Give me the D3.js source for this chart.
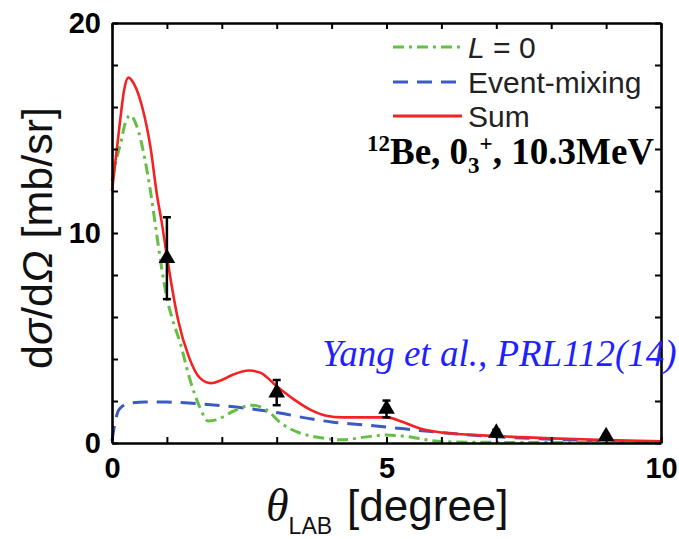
<!DOCTYPE html>
<head>
<meta charset="utf-8">
<title>12Be 0_3+ angular distribution</title>
<style>
  body { margin: 0; background: #fff; }
  text { font-family: "Liberation Sans", Arial, sans-serif; }
</style>
</head>
<body>
<script src="https://d3js.org/d3.v7.min.js"></script>
<script>
// ---- data ----
// L = 0 curve (green dash-dot)
let l0Theta = [0, 0.08, 0.15, 0.25, 0.33, 0.45, 0.6, 0.7, 0.8, 0.9, 1.0, 1.1, 1.25, 1.4, 1.6, 1.75, 1.9, 2.2, 2.55, 2.8, 3.1, 3.4, 3.8, 4.2, 4.6, 5.0, 5.4, 5.8, 6.2, 7, 8, 9, 10];
let l0Val   = [12.5, 13.5, 14.2, 15.3, 15.6, 15.1, 13.5, 12.0, 10.2, 8.4, 6.9, 5.9, 4.7, 3.2, 1.7, 1.05, 1.1, 1.5, 1.8, 1.6, 0.9, 0.5, 0.25, 0.15, 0.28, 0.38, 0.3, 0.12, 0.05, 0.03, 0.02, 0.02, 0.02];
// event-mixing curve (blue dashed)
let emTheta = [0, 0.05, 0.13, 0.3, 0.6, 1.0, 1.4, 1.8, 2.4, 3.0, 3.6, 4.0, 4.5, 5.0, 5.6, 6.2, 7.0, 8.0, 9.0, 10.0];
let emVal   = [0.1, 0.9, 1.6, 1.88, 1.95, 1.95, 1.9, 1.82, 1.67, 1.45, 1.16, 1.0, 0.88, 0.76, 0.6, 0.45, 0.3, 0.18, 0.1, 0.05];
// sum (red solid)
let sumTheta = [0, 0.08, 0.15, 0.22, 0.3, 0.4, 0.55, 0.7, 0.82, 0.9, 1.0, 1.1, 1.2, 1.4, 1.6, 1.8, 2.0, 2.2, 2.5, 2.7, 3.0, 3.3, 3.6, 3.9, 4.2, 5.0, 5.3, 5.6, 6.0, 7.0, 8.0, 9.0, 10.0];
let sumVal   = [12.0, 13.8, 15.4, 16.8, 17.4, 17.1, 16.0, 14.1, 11.8, 10.6, 8.9, 7.3, 5.9, 4.1, 3.1, 2.85, 3.0, 3.25, 3.45, 3.35, 2.7, 2.1, 1.6, 1.3, 1.22, 1.22, 1.0, 0.7, 0.5, 0.33, 0.22, 0.14, 0.08];
// experimental points
let expTheta = [1, 3, 5, 7, 9];
let expVal   = [8.8, 2.4, 1.62, 0.48, 0.32];
let expErr   = [1.95, 0.6, 0.4, 0.15, 0.1];

let xTicks = [0, 1, 2, 3, 4, 5, 6, 7, 8, 9, 10];
let yTicks = [0, 2, 4, 6, 8, 10, 12, 14, 16, 18, 20];
let xLabels = [0, 5, 10];
let yLabels = [0, 10, 20];

let legendNames = ["L = 0", "Event-mixing", "Sum"];

let width = 679;
let height = 539;
let svg = d3.select("body").append("svg")
  .attr("width", width)
  .attr("height", height);

let x = d3.scaleLinear().domain([0, 10]).range([112, 661]);
let y = d3.scaleLinear().domain([0, 20]).range([443, 23]);

let green = "#66bf45";
let blue = "#3a5cc2";
let red = "#f42222";

// curves
let line = d3.line()
  .x(d => x(d[0]))
  .y(d => y(d[1]))
  .curve(d3.curveMonotoneX);

svg.append("path")
  .datum(d3.zip(emTheta, emVal))
  .attr("d", line)
  .attr("fill", "none")
  .attr("stroke", blue)
  .attr("stroke-width", 3)
  .attr("stroke-dasharray", "15,9");

svg.append("path")
  .datum(d3.zip(l0Theta, l0Val))
  .attr("d", line)
  .attr("fill", "none")
  .attr("stroke", green)
  .attr("stroke-width", 3)
  .attr("stroke-dasharray", "11,5,3,5");

svg.append("path")
  .datum(d3.zip(sumTheta, sumVal))
  .attr("d", line)
  .attr("fill", "none")
  .attr("stroke", red)
  .attr("stroke-width", 2.6);

// data points with error bars
let pts = svg.selectAll(".pt")
  .data(d3.range(expTheta.length))
  .enter()
  .append("g")
  .attr("class", "pt");

pts.append("line")
  .attr("x1", i => x(expTheta[i]))
  .attr("x2", i => x(expTheta[i]))
  .attr("y1", i => y(expVal[i] - expErr[i]))
  .attr("y2", i => y(expVal[i] + expErr[i]))
  .attr("stroke", "#000")
  .attr("stroke-width", 2.5);

[-1, 1].forEach(s => {
  pts.append("line")
    .attr("x1", i => x(expTheta[i]) - 4)
    .attr("x2", i => x(expTheta[i]) + 4)
    .attr("y1", i => y(expVal[i] + s * expErr[i]))
    .attr("y2", i => y(expVal[i] + s * expErr[i]))
    .attr("stroke", "#000")
    .attr("stroke-width", 2.5);
});

pts.append("path")
  .attr("d", d3.symbol().type(d3.symbolTriangle).size(120))
  .attr("transform", i => `translate(${x(expTheta[i])},${y(expVal[i])})`)
  .attr("fill", "#000");

// axes (ticks pointing inward)
let axisW = 2.6;
function styleAxis(g) {
  g.select(".domain").attr("stroke-width", axisW).attr("stroke", "#000");
  g.selectAll(".tick line").attr("stroke-width", 2).attr("stroke", "#000");
  g.selectAll(".tick text")
    .attr("fill", "#000")
    .style("font-family", "'Liberation Sans', Arial, sans-serif")
    .style("font-weight", "bold")
    .style("font-size", "29px");
}

svg.append("g")
  .attr("transform", `translate(0,${y(0)})`)
  .call(d3.axisBottom(x).tickValues(xTicks).tickSizeInner(-6).tickSizeOuter(0).tickPadding(14)
    .tickFormat(d => xLabels.includes(d) ? d : ""))
  .call(styleAxis);

svg.append("g")
  .attr("transform", `translate(0,${y(20)})`)
  .call(d3.axisTop(x).tickValues(xTicks).tickSizeInner(-6).tickSizeOuter(0).tickFormat(""))
  .call(styleAxis);

svg.append("g")
  .attr("transform", `translate(${x(0)},0)`)
  .call(d3.axisLeft(y).tickValues(yTicks).tickSizeInner(-6).tickSizeOuter(0).tickPadding(11)
    .tickFormat(d => yLabels.includes(d) ? d : ""))
  .call(styleAxis);

svg.append("g")
  .attr("transform", `translate(${x(10)},0)`)
  .call(d3.axisRight(y).tickValues(yTicks).tickSizeInner(-6).tickSizeOuter(0).tickFormat(""))
  .call(styleAxis);

// axis titles
let yTitle = svg.append("text")
  .attr("transform", "translate(52,238) rotate(-90)")
  .attr("text-anchor", "middle")
  .style("font-size", "43px")
  .attr("fill", "#111");
yTitle.append("tspan").text("d");
yTitle.append("tspan").text("σ").style("font-style", "italic");
yTitle.append("tspan").text("/d");
yTitle.append("tspan").text("Ω").style("font-style", "italic");
yTitle.append("tspan").text(" [mb/sr]");

let xTitle = svg.append("text")
  .attr("x", 266)
  .attr("y", 521)
  .style("font-size", "44px")
  .attr("fill", "#111");
xTitle.append("tspan").text("θ")
  .style("font-family", "'Liberation Serif', serif")
  .style("font-style", "italic")
  .style("font-size", "46px");
xTitle.append("tspan").text("LAB").attr("dy", 13).style("font-size", "23px");
xTitle.append("tspan").text("[degree]").attr("dx", 15).attr("dy", -13);

// legend
let legendColors = [green, blue, red];
let legendDash = ["11,5,3,5", "15,9", null];
let legendY = [47, 82, 116];
let leg = svg.selectAll(".legend")
  .data(legendNames)
  .enter()
  .append("g")
  .attr("class", "legend");

leg.append("line")
  .attr("x1", 393)
  .attr("x2", 462)
  .attr("y1", (d, i) => legendY[i])
  .attr("y2", (d, i) => legendY[i])
  .attr("stroke", (d, i) => legendColors[i])
  .attr("stroke-width", 2.8)
  .attr("stroke-dasharray", (d, i) => legendDash[i]);

leg.append("text")
  .attr("x", 468)
  .attr("y", (d, i) => legendY[i] + 11)
  .style("font-size", "30px")
  .attr("fill", "#222")
  .each(function (d, i) {
    let t = d3.select(this);
    if (i === 0) {
      t.append("tspan").text("L").style("font-style", "italic");
      t.append("tspan").text(" = 0");
    } else {
      t.text(d);
    }
  });

// state annotation
let state = svg.append("text")
  .attr("x", 367)
  .attr("y", 164)
  .style("font-family", "'Liberation Serif', serif")
  .style("font-weight", "bold")
  .style("font-size", "37px")
  .attr("fill", "#000");
state.append("tspan").text("12").style("font-size", "23px").attr("dy", -13);
state.append("tspan").text("Be, 0").attr("dy", 13);
state.append("tspan").text("3").style("font-size", "23px").attr("dy", 9);
state.append("tspan").text("+").style("font-size", "23px").attr("dy", -22);
state.append("tspan").text(", 10.3MeV").attr("dy", 13);

// reference
svg.append("text")
  .attr("x", 322)
  .attr("y", 366)
  .style("font-family", "'Liberation Serif', serif")
  .style("font-style", "italic")
  .style("font-size", "37px")
  .attr("fill", "#1f1fff")
  .text("Yang et al., PRL112(14)");
</script>
</body>
